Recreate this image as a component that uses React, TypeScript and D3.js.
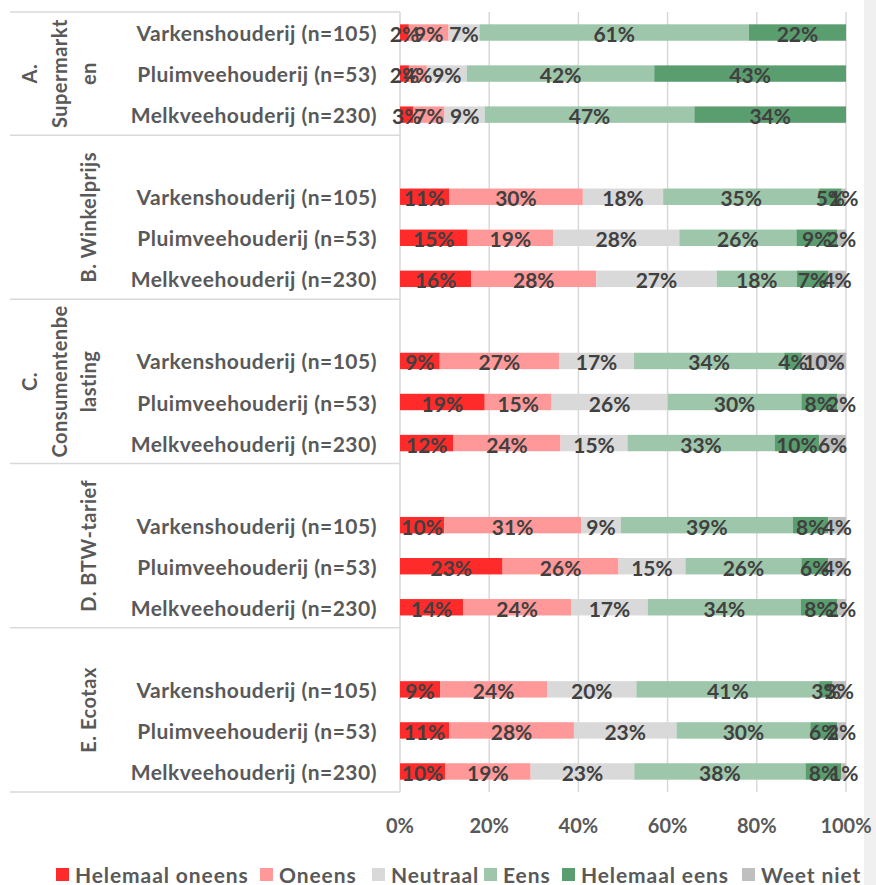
import React from "react";
import * as d3 from "d3";

const groupLabelLines: string[][] = [
  ["A.", "Supermarkt", "en"],
  ["B. Winkelprijs"],
  ["C.", "Consumentenbe", "lasting"],
  ["D. BTW-tarief"],
  ["E. Ecotax"],
];
const groupKeys = ["A", "B", "C", "D", "E"];
const categories = ["Varkenshouderij (n=105)", "Pluimveehouderij (n=53)", "Melkveehouderij (n=230)"];

const seriesNames = ["Helemaal oneens", "Oneens", "Neutraal", "Eens", "Helemaal eens", "Weet niet"];
const seriesColors = ["#ff2b2b", "#ff9999", "#d9d9d9", "#9ec6aa", "#5a9e6f", "#bfbfbf"];

// per row: A(V,P,M), B(V,P,M), C(V,P,M), D(V,P,M), E(V,P,M)
const helemaalOneens = [2, 2, 3, 11, 15, 16, 9, 19, 12, 10, 23, 14, 9, 11, 10];
const oneens = [9, 4, 7, 30, 19, 28, 27, 15, 24, 31, 26, 24, 24, 28, 19];
const neutraal = [7, 9, 9, 18, 28, 27, 17, 26, 15, 9, 15, 17, 20, 23, 23];
const eens = [61, 42, 47, 35, 26, 18, 34, 30, 33, 39, 26, 34, 41, 30, 38];
const helemaalEens = [22, 43, 34, 5, 9, 7, 4, 8, 10, 8, 6, 8, 3, 6, 8];
const weetNiet = [0, 0, 0, 1, 2, 4, 10, 2, 6, 4, 4, 2, 3, 2, 1];

const tickValues = [0, 0.2, 0.4, 0.6, 0.8, 1];

const W = 876;
const H = 885;
const FONT = "Lato, 'Open Sans', sans-serif";

export default function App() {
  const seriesArrays = [helemaalOneens, oneens, neutraal, eens, helemaalEens, weetNiet];

  const slots: string[] = [];
  groupKeys.forEach((g, gi) => {
    if (gi > 0) slots.push(g + "-gap");
    categories.forEach((_, ci) => slots.push(g + "-" + ci));
  });

  const rows = groupKeys.flatMap((g, gi) =>
    categories.map((c, ci) => {
      const idx = gi * 3 + ci;
      const obj: any = { slot: g + "-" + ci, group: g, cat: c };
      seriesNames.forEach((s, si) => (obj[s] = seriesArrays[si][idx]));
      return obj;
    })
  );

  const top = 12;
  const bottom = 792;
  const y = d3.scaleBand<string>().domain(slots).range([top, bottom]).paddingInner(0.6).paddingOuter(0.3);
  const x = d3.scaleLinear().domain([0, 1]).range([400, 846]);

  const stack = d3.stack<any>().keys(seriesNames).offset(d3.stackOffsetExpand);
  const stacked = stack(rows);

  const step = y.step();
  const groupBounds = groupKeys.map((g, gi) => {
    const firstSlot = gi > 0 ? g + "-gap" : g + "-0";
    const start = (y(firstSlot) as number) - (step - y.bandwidth()) / 2;
    const end = (y(g + "-2") as number) + y.bandwidth() + (step - y.bandwidth()) / 2;
    return { g, start, end };
  });

  const lineColor = "#d9d9d9";
  const axisText = "#595959";
  const labelText = "#404040";

  const legendX = [56, 260, 372, 484, 562, 742];

  return (
    <svg
      width={W}
      height={H}
      style={{ position: "absolute", left: 0, top: 0, background: "#fff" }}
      fontFamily={FONT}
    >
      <rect x={0} y={0} width={W} height={H} fill="#fff" />
      <rect x={864} y={0} width={W - 864} height={H} fill="#f0f0f0" />

      {tickValues.map((t) => (
        <line key={"g" + t} x1={x(t)} x2={x(t)} y1={top} y2={bottom} stroke={lineColor} strokeWidth={1.5} />
      ))}

      {[top, ...groupBounds.map((b) => b.end)].map((yy, i) => (
        <line key={"s" + i} x1={10} x2={400} y1={yy} y2={yy} stroke={lineColor} strokeWidth={1.5} />
      ))}

      {stacked.map((layer, si) => (
        <g key={layer.key} fill={seriesColors[si]}>
          {layer.map((d, i) => {
            const w = x(d[1]) - x(d[0]);
            if (w <= 0) return null;
            return <rect key={i} x={x(d[0])} y={y(rows[i].slot)} width={w} height={y.bandwidth()} />;
          })}
        </g>
      ))}

      {stacked.map((layer) => (
        <g key={"l" + layer.key}>
          {layer.map((d, i) => {
            const v = rows[i][layer.key];
            if (!v) return null;
            return (
              <text
                key={i}
                x={(x(d[0]) + x(d[1])) / 2}
                y={(y(rows[i].slot) as number) + y.bandwidth() / 2 + 1}
                textAnchor="middle"
                dominantBaseline="central"
                fontSize={21}
                fontWeight={700}
                fill={labelText}
              >
                {v + "%"}
              </text>
            );
          })}
        </g>
      ))}

      {rows.map((r, i) => (
        <text
          key={"c" + i}
          x={377}
          y={(y(r.slot) as number) + y.bandwidth() / 2}
          textAnchor="end"
          dominantBaseline="central"
          fontSize={21}
          fontWeight={700}
          letterSpacing={0.5}
          fill={axisText}
        >
          {r.cat}
        </text>
      ))}

      {groupBounds.map((b, gi) => {
        const lines = groupLabelLines[gi];
        const cy = (b.start + b.end) / 2;
        return lines.map((ln, li) => {
          const baseX = 96 - (lines.length - 1 - li) * 29.5;
          return (
            <text
              key={b.g + li}
              transform={`translate(${baseX},${cy}) rotate(-90)`}
              textAnchor="middle"
              fontSize={20}
              fontWeight={700}
              letterSpacing={0.5}
              fill={axisText}
            >
              {ln}
            </text>
          );
        });
      })}

      {tickValues.map((t) => (
        <text
          key={"t" + t}
          x={x(t)}
          y={825}
          textAnchor="middle"
          dominantBaseline="central"
          fontSize={20}
          fontWeight={700}
          fill={axisText}
        >
          {d3.format(".0%")(t)}
        </text>
      ))}

      {seriesNames.map((s, i) => (
        <g key={"lg" + s} transform={`translate(${legendX[i]},874)`}>
          <rect x={0} y={-6} width={13} height={13} fill={seriesColors[i]} />
          <text x={19} y={0} dominantBaseline="central" fontSize={21} fontWeight={700} letterSpacing={0.9} fill={axisText}>
            {s}
          </text>
        </g>
      ))}
    </svg>
  );
}
